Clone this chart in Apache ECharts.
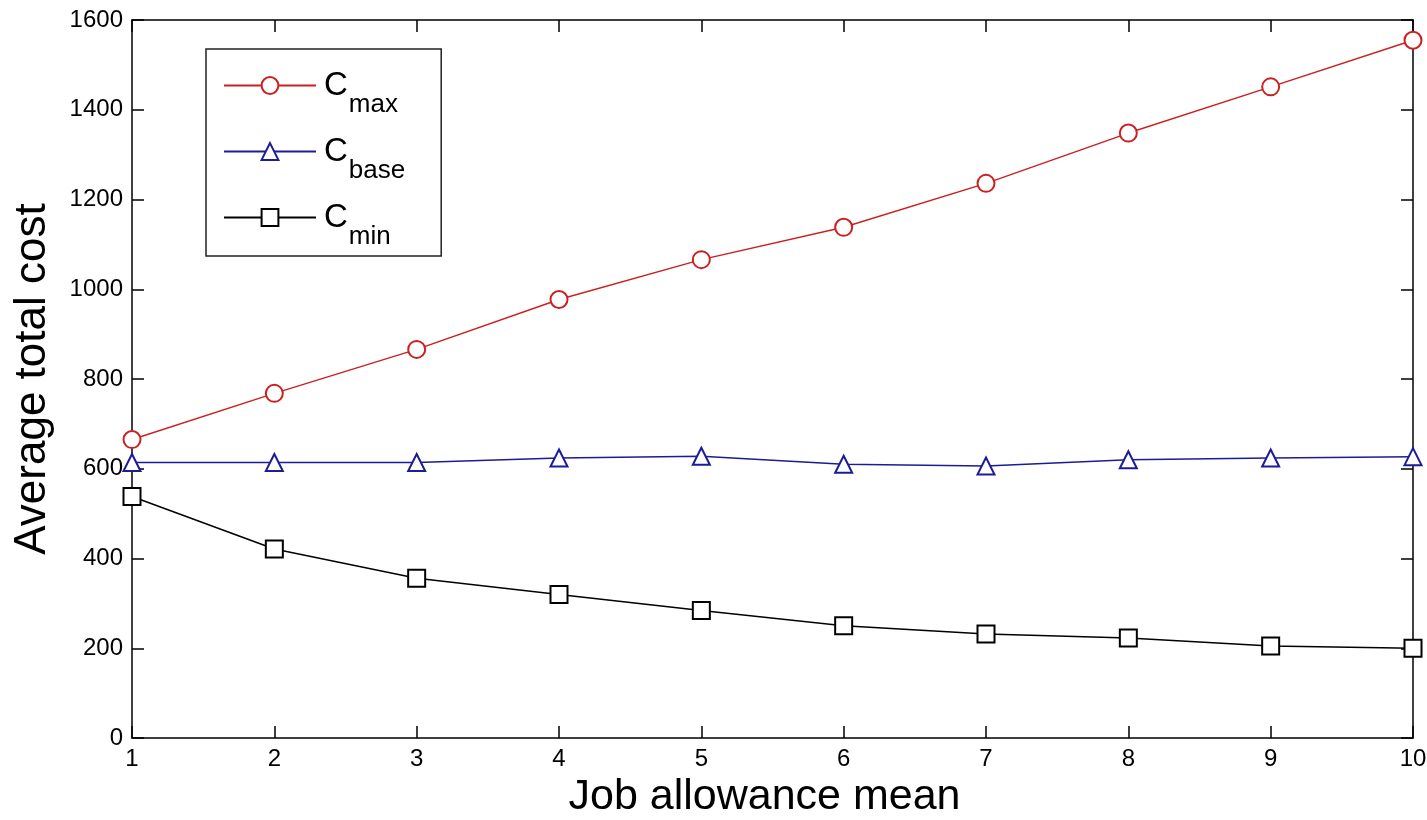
<!DOCTYPE html>
<html>
<head>
<meta charset="utf-8">
<script src="https://cdn.jsdelivr.net/npm/echarts@6/dist/echarts.min.js"></script>
<style>
html,body{margin:0;padding:0;background:#fff;}
#chart{width:1427px;height:820px;}
</style>
</head>
<body>
<div id="chart"></div>
<script>
const xValues = [1, 2, 3, 4, 5, 6, 7, 8, 9, 10];
const cMax = [665, 768, 866, 977, 1066, 1138, 1236, 1348, 1451, 1555];
const cBase = [614, 614, 614, 624, 628, 610, 606, 620, 624, 627];
const cMin = [538, 421, 356, 320, 284, 250, 232, 223, 205, 200];
const seriesNames = ['max', 'base', 'min'];
const xTitle = 'Job allowance mean';
const yTitle = 'Average total cost';

const FONT = '"Liberation Sans", Arial, sans-serif';
const chart = echarts.init(document.getElementById('chart'), null, {renderer: 'canvas'});

function pts(arr) { return xValues.map((x, i) => [x, arr[i]]); }

const axisCommon = {
  axisLine: {show: true, onZero: false, lineStyle: {color: '#000', width: 1.5}},
  axisTick: {show: true, inside: true, length: 12, lineStyle: {color: '#000', width: 1.5}},
  splitLine: {show: false}
};

const option = {
  backgroundColor: '#ffffff',
  animation: false,
  grid: {left: 132, right: 14, top: 20, bottom: 82, containLabel: false, outerBoundsMode: 'none'},
  xAxis: [
    Object.assign({
      type: 'value', min: 1, max: 10, interval: 1, position: 'bottom',
      name: xTitle, nameLocation: 'middle', nameGap: 32,
      nameTextStyle: {fontFamily: FONT, fontSize: 43, color: '#000', padding: [0, 16, 0, 0]},
      axisLabel: {fontFamily: FONT, fontSize: 24, color: '#000', margin: 9, formatter: v => String(v)}
    }, axisCommon),
    Object.assign({
      type: 'value', min: 1, max: 10, interval: 1, position: 'top',
      axisLabel: {show: false}
    }, axisCommon)
  ],
  yAxis: [
    Object.assign({
      type: 'value', min: 0, max: 1600, interval: 200, position: 'left',
      name: yTitle, nameLocation: 'middle', nameGap: 77,
      nameTextStyle: {fontFamily: FONT, fontSize: 44, color: '#000'},
      axisLabel: {fontFamily: FONT, fontSize: 24, color: '#000', margin: 9, formatter: v => String(v)}
    }, axisCommon),
    Object.assign({
      type: 'value', min: 0, max: 1600, interval: 200, position: 'right',
      axisLabel: {show: false}
    }, axisCommon)
  ],
  legend: {
    orient: 'vertical', left: 206, top: 49,
    backgroundColor: '#fff',
    borderColor: '#222', borderWidth: 1.5,
    padding: [20, 36, 6, 17],
    itemWidth: 92, itemHeight: 21, itemGap: 17,
    data: seriesNames,
    formatter: function (n) { return '{c|C}{s|' + n + '}'; },
    textStyle: {
      fontFamily: FONT, color: '#000',
      rich: {
        c: {fontSize: 33, fontFamily: FONT, color: '#000', verticalAlign: 'top', lineHeight: 33, padding: [0, 0, 0, 3]},
        s: {fontSize: 26, fontFamily: FONT, color: '#000', verticalAlign: 'top', lineHeight: 26, padding: [23, 0, 0, 1]}
      }
    }
  },
  series: [
    {
      name: seriesNames[0], type: 'line', data: pts(cMax),
      symbol: 'emptyCircle', symbolSize: 17,
      lineStyle: {color: '#cc2020', width: 1.5},
      itemStyle: {color: '#cc2020', borderWidth: 1.5}
    },
    {
      name: seriesNames[1], type: 'line', data: pts(cBase),
      symbol: 'emptyTriangle', symbolSize: 17,
      lineStyle: {color: '#1c1c96', width: 1.5},
      itemStyle: {color: '#1c1c96', borderWidth: 1.5}
    },
    {
      name: seriesNames[2], type: 'line', data: pts(cMin),
      symbol: 'emptyRect', symbolSize: 17,
      lineStyle: {color: '#000', width: 1.5},
      itemStyle: {color: '#000', borderWidth: 1.5}
    }
  ]
};
chart.setOption(option);
</script>
</body>
</html>
